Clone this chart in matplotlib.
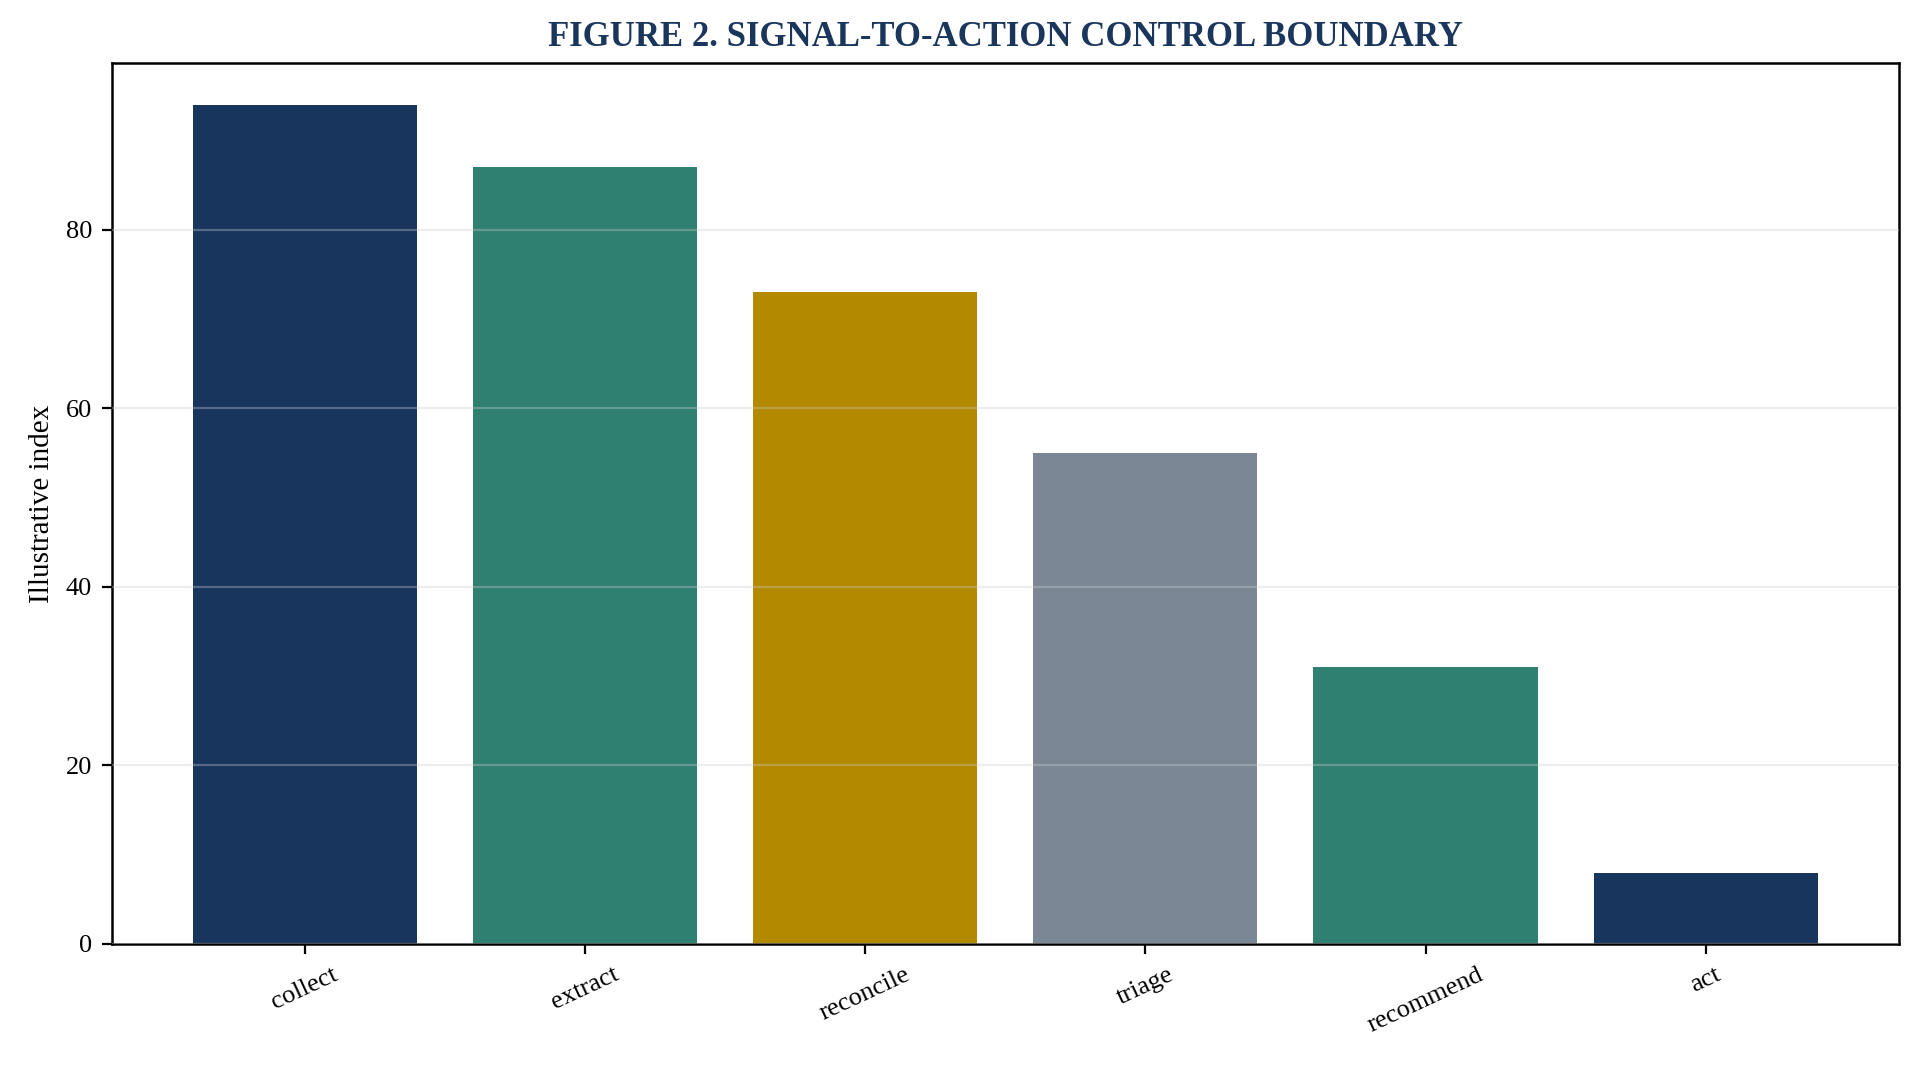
import matplotlib
matplotlib.use("Agg")
import matplotlib.pyplot as plt

categories = ["collect", "extract", "reconcile", "triage", "recommend", "act"]
values = [94, 87, 73, 55, 31, 8]
bar_colors = ["#18365d", "#2f8070", "#b38900", "#7b8795", "#2f8070", "#18365d"]

plt.rcParams['font.family'] = ['Liberation Serif', 'DejaVu Serif']

fig = plt.figure(figsize=(9.62, 5.33), dpi=200)
ax = fig.add_axes([0.058, 0.1145, 0.929, 0.8265])

ax.bar(categories, values, color=bar_colors, width=0.8)

ax.set_axisbelow(False)
ax.yaxis.grid(True, color="#cccccc", alpha=0.35, linewidth=0.8)
ax.xaxis.grid(False)

ax.set_ylabel("Illustrative index", fontsize=10.5)
ax.set_title("FIGURE 2. SIGNAL-TO-ACTION CONTROL BOUNDARY", fontsize=12.5,
             fontweight="bold", color="#1b365d", pad=6)
ax.tick_params(axis="both", labelsize=9.5)
plt.setp(ax.get_xticklabels(), rotation=25)
for s in ax.spines.values():
    s.set_linewidth(0.9)

fig.savefig("out.png", dpi=200)
